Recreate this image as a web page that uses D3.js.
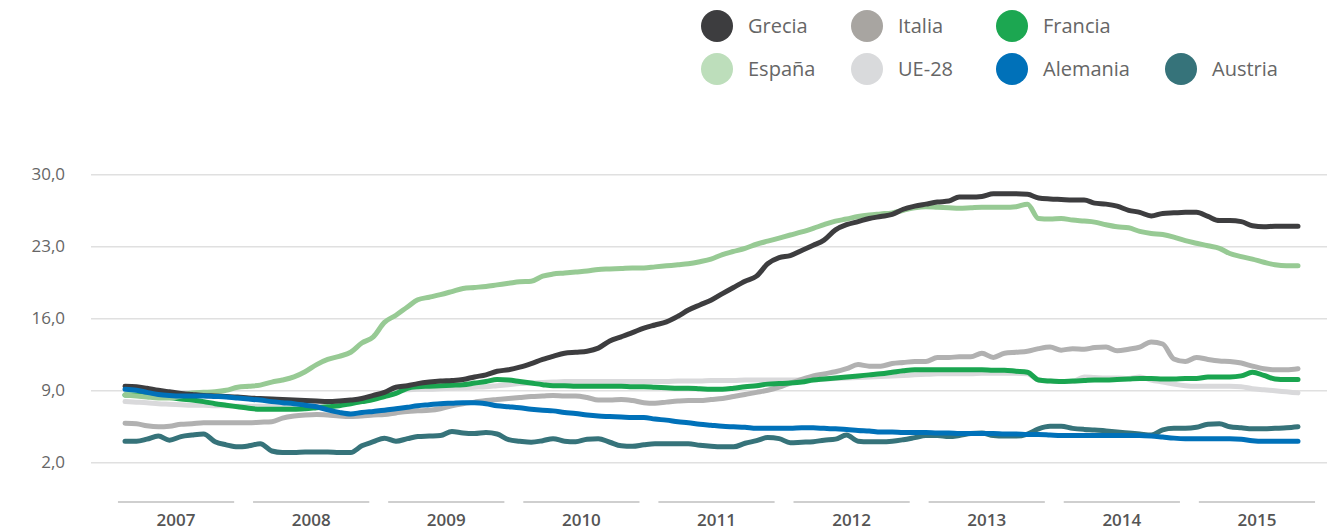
<!DOCTYPE html>
<html>
<head>
<meta charset="utf-8">
<script src="https://cdn.jsdelivr.net/npm/d3@7"></script>
<style>
  body { margin: 0; background: #fff; }
  svg { display: block; font-family: 'Open Sans', sans-serif; }
</style>
</head>
<body>
<svg id="chart" width="1335" height="530"></svg>
<script>
// x categories: monthly, Jan 2007 - Sep 2015
const years = [2007, 2008, 2009, 2010, 2011, 2012, 2013, 2014, 2015];
const months = d3.timeMonth.range(new Date(2007, 0, 1), new Date(2015, 9, 1));
const yTicks = [2, 9, 16, 23, 30];

const grecia = [
  9.4, 9.35, 9.2, 9.0, 8.85, 8.7, 8.6, 8.5, 8.45, 8.4, 8.35, 8.25,
  8.2, 8.15, 8.1, 8.05, 8.0, 7.95, 7.9, 7.95, 8.05, 8.2, 8.5, 8.8,
  9.3, 9.45, 9.65, 9.8, 9.9, 9.95, 10.05, 10.3, 10.5, 10.85, 11.0, 11.25,
  11.6, 12.0, 12.3, 12.6, 12.7, 12.8, 13.1, 13.8, 14.2, 14.6, 15.05, 15.35,
  15.65, 16.2, 16.8, 17.3, 17.75, 18.4, 19.0, 19.6, 20.1, 21.3, 21.9, 22.1,
  22.6, 23.1, 23.6, 24.6, 25.1, 25.4, 25.7, 25.9, 26.1, 26.6, 26.9, 27.1,
  27.3, 27.4, 27.8, 27.8, 27.85, 28.1, 28.1, 28.1, 28.05, 27.7, 27.6, 27.55,
  27.5, 27.5, 27.2, 27.1, 26.9, 26.5, 26.3, 25.95, 26.2, 26.25, 26.3, 26.3,
  25.9, 25.5, 25.5, 25.4, 25.0, 24.9, 24.95, 24.95, 24.95
];
const espana = [
  8.55, 8.45, 8.35, 8.25, 8.25, 8.45, 8.75, 8.8, 8.85, 9.0, 9.3, 9.4,
  9.5, 9.8, 10.0, 10.3, 10.8, 11.5, 12.0, 12.3, 12.7, 13.6, 14.2, 15.6,
  16.3, 17.1, 17.8, 18.05, 18.3, 18.6, 18.9, 19.0, 19.1, 19.25, 19.4, 19.55,
  19.6, 20.1, 20.3, 20.4, 20.5, 20.6, 20.75, 20.8, 20.85, 20.9, 20.9, 21.0,
  21.1, 21.2, 21.3, 21.5, 21.75, 22.2, 22.5, 22.8, 23.2, 23.5, 23.8, 24.1,
  24.4, 24.75, 25.1, 25.45, 25.65, 25.9, 26.05, 26.15, 26.25, 26.5, 26.75, 26.85,
  26.8, 26.75, 26.7, 26.75, 26.8, 26.8, 26.8, 26.85, 27.1, 25.7, 25.65, 25.7,
  25.55, 25.45, 25.35, 25.1, 24.9, 24.8, 24.45, 24.25, 24.15, 23.9, 23.55, 23.3,
  23.05, 22.8, 22.3, 22.0, 21.75, 21.45, 21.2, 21.1, 21.1
];
const italia = [
  5.8, 5.75, 5.55, 5.45, 5.5, 5.7, 5.75, 5.85, 5.85, 5.85, 5.85, 5.85,
  5.9, 5.95, 6.3, 6.5, 6.6, 6.65, 6.6, 6.5, 6.45, 6.5, 6.6, 6.65,
  6.8, 6.95, 7.0, 7.05, 7.2, 7.5, 7.7, 7.85, 8.0, 8.1, 8.2, 8.3,
  8.4, 8.45, 8.5, 8.45, 8.45, 8.3, 8.05, 8.05, 8.1, 8.0, 7.8, 7.75,
  7.85, 7.95, 8.0, 8.0, 8.1, 8.2, 8.4, 8.6, 8.8, 9.0, 9.3, 9.7,
  10.05, 10.4, 10.6, 10.8, 11.1, 11.5, 11.35, 11.35, 11.6, 11.7, 11.8, 11.8,
  12.2, 12.2, 12.25, 12.25, 12.6, 12.2, 12.6, 12.7, 12.8, 13.05, 13.2, 12.9,
  13.05, 13.0, 13.15, 13.2, 12.85, 13.0, 13.2, 13.7, 13.5, 12.05, 11.8, 12.2,
  12.0, 11.85, 11.8, 11.65, 11.35, 11.1, 11.0, 11.0, 11.1
];
const francia = [
  8.55, 8.55, 8.45, 8.4, 8.3, 8.15, 8.05, 7.9, 7.7, 7.55, 7.4, 7.25,
  7.15, 7.15, 7.15, 7.15, 7.2, 7.3, 7.4, 7.5, 7.7, 7.9, 8.1, 8.4,
  8.7, 9.2, 9.35, 9.4, 9.45, 9.5, 9.55, 9.7, 9.85, 10.05, 10.0, 9.85,
  9.7, 9.55, 9.45, 9.45, 9.4, 9.4, 9.4, 9.4, 9.4, 9.35, 9.35, 9.3,
  9.25, 9.2, 9.2, 9.15, 9.1, 9.1, 9.2, 9.35, 9.45, 9.6, 9.65, 9.7,
  9.8, 10.0, 10.1, 10.2, 10.3, 10.4, 10.5, 10.6, 10.75, 10.9, 11.0, 11.0,
  11.0, 11.0, 11.0, 11.0, 11.0, 10.95, 10.95, 10.85, 10.75, 10.0, 9.9, 9.85,
  9.9, 9.95, 10.0, 10.0, 10.05, 10.1, 10.15, 10.15, 10.1, 10.1, 10.15, 10.15,
  10.3, 10.3, 10.3, 10.4, 10.75, 10.45, 10.1, 10.05, 10.05
];
const ue28 = [
  7.9, 7.85, 7.8, 7.7, 7.65, 7.6, 7.55, 7.55, 7.5, 7.5, 7.45, 7.45,
  7.45, 7.45, 7.5, 7.5, 7.5, 7.6, 7.7, 7.75, 7.8, 7.9, 8.2, 8.6,
  8.95, 9.05, 9.1, 9.1, 9.15, 9.2, 9.25, 9.3, 9.35, 9.45, 9.55, 9.65,
  9.7, 9.75, 9.8, 9.85, 9.85, 9.85, 9.85, 9.85, 9.85, 9.85, 9.85, 9.85,
  9.85, 9.9, 9.9, 9.9, 9.95, 9.95, 9.95, 10.0, 10.0, 10.0, 10.0, 10.0,
  10.0, 10.05, 10.1, 10.15, 10.2, 10.25, 10.3, 10.35, 10.4, 10.45, 10.5, 10.55,
  10.6, 10.6, 10.6, 10.6, 10.65, 10.65, 10.65, 10.65, 10.6, 10.0, 9.9, 9.85,
  9.85, 10.3, 10.25, 10.2, 10.2, 10.15, 10.3, 10.0, 9.8, 9.6, 9.45, 9.4,
  9.4, 9.4, 9.4, 9.35, 9.15, 9.05, 8.95, 8.85, 8.75
];
const alemania = [
  9.1, 9.0, 8.8, 8.6, 8.5, 8.45, 8.45, 8.45, 8.4, 8.35, 8.25, 8.15,
  8.05, 7.9, 7.8, 7.7, 7.55, 7.4, 7.1, 6.85, 6.7, 6.85, 6.95, 7.05,
  7.2, 7.35, 7.5, 7.6, 7.7, 7.75, 7.8, 7.8, 7.7, 7.5, 7.4, 7.3,
  7.15, 7.05, 7.0, 6.85, 6.75, 6.6, 6.5, 6.45, 6.4, 6.35, 6.35, 6.2,
  6.1, 5.95, 5.85, 5.7, 5.6, 5.5, 5.45, 5.4, 5.3, 5.3, 5.3, 5.3,
  5.35, 5.35, 5.3, 5.25, 5.2, 5.1, 5.05, 4.95, 4.95, 4.9, 4.9, 4.9,
  4.85, 4.85, 4.8, 4.8, 4.8, 4.8, 4.75, 4.75, 4.7, 4.7, 4.65, 4.6,
  4.6, 4.6, 4.6, 4.6, 4.6, 4.6, 4.6, 4.55, 4.45, 4.35, 4.3, 4.3,
  4.3, 4.3, 4.3, 4.25, 4.1, 4.05, 4.05, 4.05, 4.05
];
const austria = [
  4.05, 4.05, 4.25, 4.55, 4.15, 4.5, 4.65, 4.75, 4.0, 3.7, 3.5, 3.6,
  3.8, 3.1, 2.95, 2.95, 3.0, 3.0, 3.0, 2.95, 2.95, 3.6, 4.0, 4.35,
  4.05, 4.3, 4.5, 4.55, 4.6, 5.0, 4.85, 4.8, 4.9, 4.75, 4.2, 4.05,
  3.95, 4.1, 4.3, 4.05, 4.0, 4.25, 4.3, 3.95, 3.6, 3.55, 3.7, 3.8,
  3.8, 3.8, 3.8, 3.65, 3.55, 3.5, 3.5, 3.85, 4.1, 4.4, 4.3, 3.9,
  3.95, 4.0, 4.15, 4.25, 4.65, 4.05, 4.0, 4.0, 4.05, 4.2, 4.4, 4.6,
  4.6, 4.5, 4.6, 4.8, 4.85, 4.6, 4.55, 4.55, 4.75, 5.25, 5.5, 5.5,
  5.3, 5.2, 5.15, 5.05, 4.95, 4.85, 4.75, 4.65, 5.15, 5.3, 5.3, 5.4,
  5.7, 5.75, 5.45, 5.35, 5.25, 5.25, 5.3, 5.35, 5.45
];

const legendNames = ['Grecia', 'Italia', 'Francia', 'España', 'UE-28', 'Alemania', 'Austria'];

// drawing order (last on top)
const series = [
  { name: 'UE-28', values: ue28 },
  { name: 'Italia', values: italia },
  { name: 'Austria', values: austria },
  { name: 'Francia', values: francia },
  { name: 'España', values: espana },
  { name: 'Grecia', values: grecia },
  { name: 'Alemania', values: alemania },
];

const lineColor = d3.scaleOrdinal()
  .domain(legendNames)
  .range(['#3d3d3f', '#b1b1b1', '#1aa550', '#97ca94', '#d9d9db', '#0071b9', '#36737a']);
const legendColor = d3.scaleOrdinal()
  .domain(legendNames)
  .range(['#3d3d3f', '#a8a5a1', '#1ca751', '#bddebb', '#d9dadc', '#0071b9', '#36737a']);

const svg = d3.select('#chart');

const x = d3.scaleTime()
  .domain(d3.extent(months))
  .range([125, 1298]);

const y = d3.scaleLinear()
  .domain([2, 30])
  .range([462.3, 174.3]);

const yearBand = d3.scaleBand()
  .domain(years)
  .range([108.5, 1324.5])
  .paddingInner(0.14)
  .paddingOuter(0.07);

// horizontal gridlines + y labels
const fmt = d => d3.format('.1f')(d).replace('.', ',');
const yAxis = svg.append('g')
  .attr('transform', 'translate(91,0)')
  .call(d3.axisLeft(y).tickValues(yTicks).tickSize(-1236).tickFormat(fmt).tickPadding(26));
yAxis.select('.domain').remove();
yAxis.selectAll('line').attr('stroke', '#e0e0e0').attr('stroke-width', 1.5);
yAxis.selectAll('text')
  .attr('fill', '#666')
  .style('font-size', '17px')
  .style('font-family', "'Open Sans', sans-serif");

// year axis: separate segments with centered labels
const xAxis = svg.append('g');
xAxis.selectAll('line')
  .data(years)
  .join('line')
  .attr('x1', d => yearBand(d))
  .attr('x2', d => yearBand(d) + yearBand.bandwidth())
  .attr('y1', 502)
  .attr('y2', 502)
  .attr('stroke', '#cfcfcf')
  .attr('stroke-width', 2);
xAxis.selectAll('text')
  .data(years)
  .join('text')
  .attr('x', d => yearBand(d) + yearBand.bandwidth() / 2)
  .attr('y', 526)
  .attr('text-anchor', 'middle')
  .attr('fill', '#555')
  .style('font-size', '17px')
  .style('font-weight', 600)
  .text(d => d);

// lines
const line = d3.line()
  .x((d, i) => x(months[i]))
  .y(d => y(d))
  .curve(d3.curveMonotoneX);

svg.append('g')
  .selectAll('path')
  .data(series)
  .join('path')
  .attr('d', d => line(d.values))
  .attr('fill', 'none')
  .attr('stroke', d => lineColor(d.name))
  .attr('stroke-width', 5)
  .attr('stroke-linejoin', 'round')
  .attr('stroke-linecap', 'round');

// legend
const legendPos = [
  [717, 26], [867, 26], [1012, 26],
  [717, 69], [867, 69], [1012, 69], [1181, 69],
];
const legend = svg.append('g')
  .selectAll('g')
  .data(legendNames)
  .join('g')
  .attr('transform', (d, i) => `translate(${legendPos[i][0]},${legendPos[i][1]})`);
legend.append('circle')
  .attr('r', 16)
  .attr('fill', d => legendColor(d));
legend.append('text')
  .attr('x', 31)
  .attr('dy', '0.35em')
  .attr('fill', '#666')
  .style('font-size', '20px')
  .text(d => d);
</script>
</body>
</html>
